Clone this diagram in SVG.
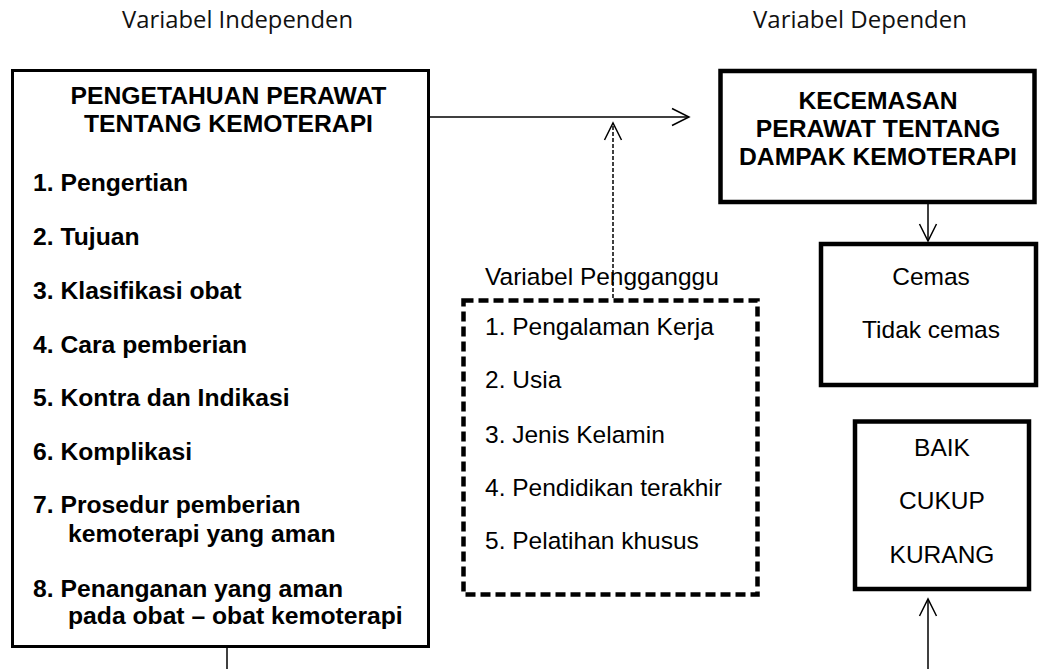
<svg xmlns="http://www.w3.org/2000/svg" width="1040" height="669" viewBox="0 0 1040 669">
<style>
.lbl{font-family:"Open Sans","Liberation Sans",sans-serif;font-size:23.5px;fill:#111}
.b{font-family:"Liberation Sans",Arial,sans-serif;font-weight:bold;font-size:24.7px;fill:#000}
.r{font-family:"Liberation Sans",Arial,sans-serif;font-size:24.5px;fill:#000}
.box{fill:none;stroke:#000}
.ln{fill:none;stroke:#000;stroke-width:1.5}
</style>
<defs>
<marker id="ah" markerUnits="userSpaceOnUse" markerWidth="40" markerHeight="40" viewBox="-20 -20 40 40" refX="0" refY="0" orient="auto">
<path d="M-17,-8.5 L0,0 L-17,8.5" fill="none" stroke="#000" stroke-width="1.5"/>
</marker>
</defs>
<text class="lbl" x="122" y="28" textLength="231" lengthAdjust="spacingAndGlyphs">Variabel Independen</text>
<text class="lbl" x="753" y="28" textLength="214" lengthAdjust="spacingAndGlyphs">Variabel Dependen</text>

<g id="connectors">
<line class="ln" x1="430" y1="117" x2="689" y2="117" marker-end="url(#ah)"/>
<line class="ln" x1="613" y1="298" x2="613" y2="123" stroke-dasharray="4 2" marker-end="url(#ah)"/>
<line class="ln" x1="928" y1="204" x2="928" y2="241" marker-end="url(#ah)"/>
<line class="ln" x1="928" y1="669" x2="928" y2="599" marker-end="url(#ah)"/>
<line class="ln" x1="227" y1="648" x2="227" y2="669"/>
</g>

<g id="independen">
<rect class="box" x="12.5" y="70.5" width="416" height="576" stroke-width="3"/>
<text class="b" x="228.5" y="104" text-anchor="middle">PENGETAHUAN PERAWAT</text>
<text class="b" x="228.5" y="132" text-anchor="middle">TENTANG KEMOTERAPI</text>
<text class="b" x="33" y="191">1. Pengertian</text>
<text class="b" x="33" y="245">2. Tujuan</text>
<text class="b" x="33" y="299">3. Klasifikasi obat</text>
<text class="b" x="33" y="353">4. Cara pemberian</text>
<text class="b" x="33" y="406">5. Kontra dan Indikasi</text>
<text class="b" x="33" y="460">6. Komplikasi</text>
<text class="b" x="33" y="513">7. Prosedur pemberian</text>
<text class="b" x="68" y="542">kemoterapi yang aman</text>
<text class="b" x="33" y="597">8. Penanganan yang aman</text>
<text class="b" x="68" y="624">pada obat – obat kemoterapi</text>
</g>

<g id="dependen">
<rect class="box" x="720.5" y="71" width="314" height="131" stroke-width="4.5"/>
<text class="b" x="878" y="108.5" text-anchor="middle">KECEMASAN</text>
<text class="b" x="878" y="136.5" text-anchor="middle">PERAWAT TENTANG</text>
<text class="b" x="878" y="164.5" text-anchor="middle">DAMPAK KEMOTERAPI</text>
</g>

<g id="kategori-cemas">
<rect class="box" x="821" y="244" width="215" height="141" stroke-width="4.5"/>
<text class="r" x="931" y="285" text-anchor="middle">Cemas</text>
<text class="r" x="931" y="338" text-anchor="middle">Tidak cemas</text>
</g>

<g id="kategori-pengetahuan">
<rect class="box" x="855" y="421.5" width="174" height="167.5" stroke-width="4.5"/>
<text class="r" x="942" y="456" text-anchor="middle">BAIK</text>
<text class="r" x="942" y="509" text-anchor="middle">CUKUP</text>
<text class="r" x="942" y="563" text-anchor="middle">KURANG</text>
</g>

<g id="pengganggu">
<text class="r" x="485" y="285">Variabel Pengganggu</text>
<rect class="box" x="463.5" y="300.5" width="294" height="294" stroke-width="4.5" stroke-dasharray="10 5"/>
<text class="r" x="485" y="335">1. Pengalaman Kerja</text>
<text class="r" x="485" y="388">2. Usia</text>
<text class="r" x="485" y="443">3. Jenis Kelamin</text>
<text class="r" x="485" y="496">4. Pendidikan terakhir</text>
<text class="r" x="485" y="549">5. Pelatihan khusus</text>
</g>
</svg>
